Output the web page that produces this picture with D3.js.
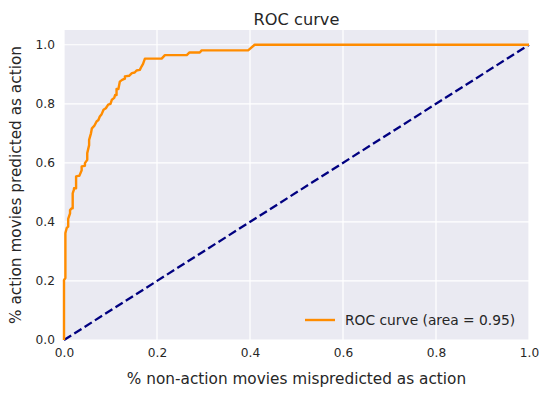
<!DOCTYPE html>
<html>
<head>
<meta charset="utf-8">
<script src="https://cdn.jsdelivr.net/npm/d3@7"></script>
<style>
  body { margin: 0; background: #fff; }
  text { font-family: "DejaVu Sans", sans-serif; fill: #262626; }
</style>
</head>
<body>
<div id="chart"></div>
<script>
// ROC points (false positive rate / true positive rate)
const fpr = [0, 0, 0.003, 0.003, 0.006, 0.009, 0.009, 0.013, 0.013, 0.0165, 0.0187, 0.0187, 0.0215,
  0.0215, 0.026, 0.026, 0.031, 0.033, 0.038, 0.038, 0.045, 0.045, 0.05, 0.05, 0.054, 0.054, 0.058,
  0.06, 0.065, 0.07, 0.074, 0.077, 0.081, 0.085, 0.09, 0.095, 0.1, 0.103, 0.108, 0.11, 0.113, 0.113,
  0.117, 0.12, 0.125, 0.131, 0.131, 0.14, 0.146, 0.152, 0.156, 0.163, 0.167, 0.17, 0.174, 0.21,
  0.217, 0.264, 0.27, 0.292, 0.296, 0.396, 0.41, 1.0];
const tpr = [0, 0.203, 0.21, 0.362, 0.38, 0.384, 0.41, 0.429, 0.44, 0.446, 0.446, 0.497, 0.51,
  0.514, 0.514, 0.554, 0.556, 0.556, 0.575, 0.588, 0.59, 0.599, 0.61, 0.633, 0.66, 0.678, 0.7,
  0.717, 0.725, 0.74, 0.745, 0.757, 0.765, 0.78, 0.785, 0.797, 0.8, 0.814, 0.82, 0.83, 0.83, 0.85,
  0.85, 0.875, 0.881, 0.885, 0.893, 0.895, 0.904, 0.906, 0.913, 0.915, 0.927, 0.935, 0.953, 0.953,
  0.965, 0.965, 0.974, 0.974, 0.981, 0.981, 1.0, 1.0];
const chanceX = [0, 1];
const chanceY = [0, 1];
const xTicks = [0, 0.2, 0.4, 0.6, 0.8, 1.0];
const yTicks = [0, 0.2, 0.4, 0.6, 0.8, 1.0];
const rocAuc = 0.95;

const width = 549, height = 396;
const margin = { left: 64, right: 20, top: 30, bottom: 56 };

const svg = d3.select("#chart").append("svg")
  .attr("width", width)
  .attr("height", height);

const x = d3.scaleLinear().domain([0, 1]).range([margin.left, width - margin.right]);
const y = d3.scaleLinear().domain([0, 1.05]).range([height - margin.bottom, margin.top]);

svg.append("rect")
  .attr("x", x(0)).attr("y", y(1.05))
  .attr("width", x(1) - x(0)).attr("height", y(0) - y(1.05))
  .attr("fill", "#eaeaf2");

// grid
svg.append("g").selectAll("line").data(xTicks).enter().append("line")
  .attr("x1", d => x(d)).attr("x2", d => x(d))
  .attr("y1", y(0)).attr("y2", y(1.05))
  .attr("stroke", "#fff").attr("stroke-width", 1.2);
svg.append("g").selectAll("line").data(yTicks).enter().append("line")
  .attr("x1", x(0)).attr("x2", x(1))
  .attr("y1", d => y(d)).attr("y2", d => y(d))
  .attr("stroke", "#fff").attr("stroke-width", 1.2);

// axes, labels only (seaborn darkgrid)
const xAxis = svg.append("g")
  .attr("transform", "translate(0," + y(0) + ")")
  .call(d3.axisBottom(x).tickValues(xTicks).tickFormat(d3.format(".1f")).tickSize(0).tickPadding(8));
const yAxis = svg.append("g")
  .attr("transform", "translate(" + x(0) + ",0)")
  .call(d3.axisLeft(y).tickValues(yTicks).tickFormat(d3.format(".1f")).tickSize(0).tickPadding(9));
[xAxis, yAxis].forEach(a => {
  a.select(".domain").remove();
  a.selectAll("text").attr("font-size", "12.2px").attr("fill", "#262626")
    .attr("font-family", "DejaVu Sans, sans-serif");
});

svg.append("clipPath").attr("id", "plotclip").append("rect")
  .attr("x", x(0) - 2).attr("y", y(1.05))
  .attr("width", x(1) - x(0) + 4).attr("height", y(0) - y(1.05) + 2);

const roc = fpr.map((d, i) => [d, tpr[i]]);
const chance = chanceX.map((d, i) => [d, chanceY[i]]);
const line = d3.line().x(d => x(d[0])).y(d => y(d[1]));

svg.append("path")
  .datum(chance)
  .attr("d", line)
  .attr("fill", "none")
  .attr("stroke", "#000080")
  .attr("stroke-width", 2.3)
  .attr("stroke-dasharray", "8.5,3.7");

svg.append("path")
  .datum(roc)
  .attr("d", line)
  .attr("clip-path", "url(#plotclip)")
  .attr("fill", "none")
  .attr("stroke", "#ff8c00")
  .attr("stroke-width", 2.4)
  .attr("stroke-linejoin", "round");

// legend, no frame
const lg = svg.append("g").attr("transform", "translate(305,320)");
lg.append("line")
  .attr("x1", 0).attr("x2", 30).attr("y1", 0).attr("y2", 0)
  .attr("stroke", "#ff8c00").attr("stroke-width", 2.4);
lg.append("text")
  .attr("x", 40).attr("y", 5)
  .attr("font-size", "13.8px")
  .text("ROC curve (area = " + rocAuc.toFixed(2) + ")");

// titles
svg.append("text")
  .attr("x", (x(0) + x(1)) / 2).attr("y", 25)
  .attr("text-anchor", "middle")
  .attr("font-size", "16.2px")
  .text("ROC curve");
svg.append("text")
  .attr("x", (x(0) + x(1)) / 2).attr("y", 384)
  .attr("text-anchor", "middle")
  .attr("font-size", "15.3px")
  .text("% non-action movies mispredicted as action");
svg.append("text")
  .attr("transform", "translate(21," + ((y(0) + y(1.05)) / 2) + ") rotate(-90)")
  .attr("text-anchor", "middle")
  .attr("font-size", "15.3px")
  .text("% action movies predicted as action");
</script>
</body>
</html>
